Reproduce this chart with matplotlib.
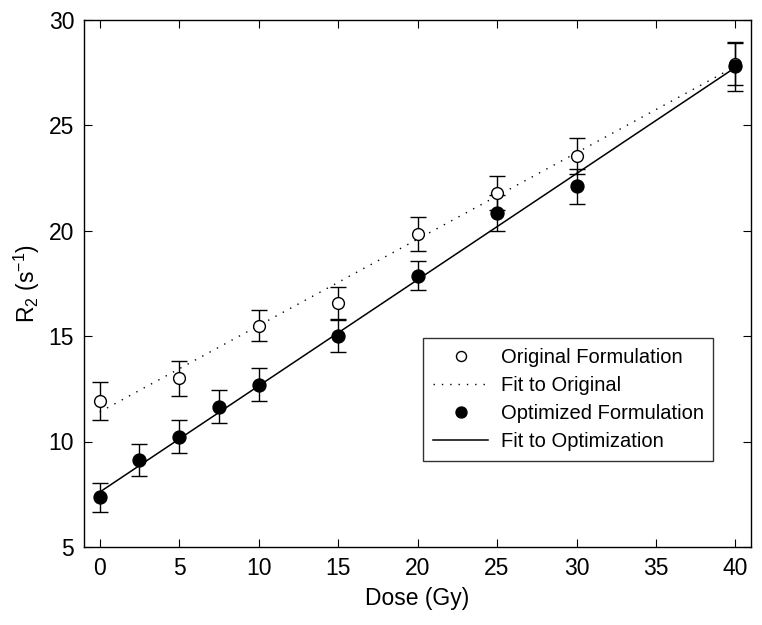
import matplotlib
matplotlib.use('Agg')
import matplotlib.pyplot as plt

# Dane
dose_orig = [0, 5, 10, 15, 20, 25, 30, 40]
r2_orig = [11.9, 13.0, 15.5, 16.55, 19.85, 21.8, 23.55, 27.9]
err_orig = [0.9, 0.83, 0.72, 0.76, 0.79, 0.8, 0.87, 1.0]

dose_opt = [0, 2.5, 5, 7.5, 10, 15, 20, 25, 30, 40]
r2_opt = [7.35, 9.13, 10.23, 11.65, 12.7, 15.0, 17.87, 20.85, 22.1, 27.8]
err_opt = [0.7, 0.75, 0.78, 0.78, 0.78, 0.76, 0.7, 0.85, 0.85, 1.15]

# Proste dopasowania (końce odcinków)
fit_x = [0, 40]
fit_orig_y = [11.4, 27.8]
fit_opt_y = [7.6, 27.75]

plt.rcParams['font.family'] = ['Liberation Sans', 'DejaVu Sans']
plt.rcParams['mathtext.fontset'] = 'custom'
plt.rcParams['mathtext.rm'] = 'Liberation Sans'
plt.rcParams['mathtext.it'] = 'Liberation Sans:italic'

fig = plt.figure(figsize=(7.62, 6.25), dpi=100)
ax = fig.add_axes([0.110, 0.125, 0.876, 0.843])

ax.errorbar(dose_orig, r2_orig, yerr=err_orig, fmt='none', ecolor='black',
            elinewidth=1, capsize=5.5, capthick=1, zorder=2)
ax.errorbar(dose_opt, r2_opt, yerr=err_opt, fmt='none', ecolor='black',
            elinewidth=1, capsize=5.5, capthick=1, zorder=2)

ax.plot(dose_orig, r2_orig, 'o', markersize=8.5, markerfacecolor='white',
        markeredgecolor='black', markeredgewidth=1, linestyle='none',
        label='Original Formulation', zorder=3)
ax.plot(fit_x, fit_orig_y, color='black', linestyle=(0, (1, 5)),
        linewidth=1, label='Fit to Original', zorder=2)
ax.plot(dose_opt, r2_opt, 'o', markersize=9.3, markerfacecolor='black',
        markeredgecolor='black', linestyle='none',
        label='Optimized Formulation', zorder=4)
ax.plot(fit_x, fit_opt_y, color='black', linewidth=1.1,
        label='Fit to Optimization', zorder=2)

ax.set_xlim(-1, 41)
ax.set_ylim(5, 30)
ax.set_xticks(range(0, 41, 5))
ax.set_yticks(range(5, 31, 5))
ax.tick_params(direction='in', top=True, right=True, length=6,
               labelsize=16.5, pad=7)
for s in ax.spines.values():
    s.set_linewidth(1)

ax.set_xlabel('Dose (Gy)', fontsize=16.5, labelpad=5)
ax.set_ylabel('R$_2$ (s$^{-1}$)', fontsize=16.5, labelpad=5)

leg = ax.legend(loc='upper left', bbox_to_anchor=(0.508, 0.397, 0.435, 0.0),
                mode='expand', fontsize=14.5, frameon=True, fancybox=False,
                edgecolor='black', borderpad=0.5, labelspacing=0.45,
                handlelength=2.75, handletextpad=0.65, markerscale=0.85,
                borderaxespad=0)
leg.get_frame().set_linewidth(1)

fig.savefig('out.png', dpi=100)
